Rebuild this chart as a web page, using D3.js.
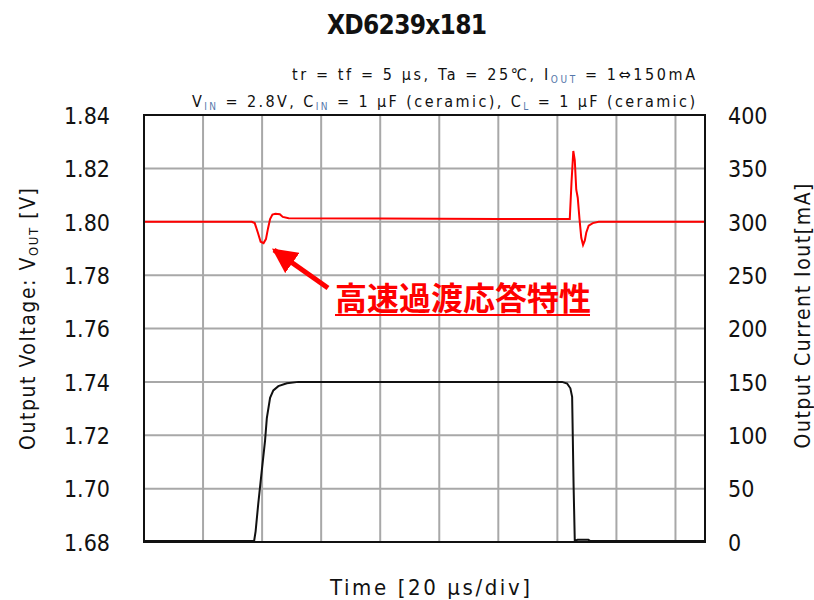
<!DOCTYPE html>
<html>
<head>
<meta charset="utf-8">
<script src="https://cdn.jsdelivr.net/npm/d3@7"></script>
<style>
  body { margin: 0; background: #fff; }
  svg text { font-family: "DejaVu Sans Condensed", "DejaVu Sans", sans-serif; font-stretch: condensed; fill: #111; }
  .cjk { font-family: "Noto Sans CJK JP", sans-serif; font-stretch: normal; }
</style>
</head>
<body>
<div id="chart"></div>
<script>
// time axis in microseconds (20 us/div)
const xTicks = [20, 40, 60, 80, 100, 120, 140, 160, 180];
const voltTicks = [1.68, 1.70, 1.72, 1.74, 1.76, 1.78, 1.80, 1.82, 1.84];
const currTicks = [0, 50, 100, 150, 200, 250, 300, 350, 400];

// output voltage trace (V)
const timeV = [0, 36.5, 37.5, 38.6, 39.5, 40.5, 41.3, 42.0, 42.7, 43.5, 44.5, 46.0, 47.0, 49.0, 80, 120,
  144.2, 144.8, 145.4, 145.9, 146.4, 146.9, 147.5, 148.1, 148.7, 149.3, 149.8, 150.6, 152, 154, 190];
const vout = [1.800, 1.800, 1.7995, 1.7958, 1.7925, 1.7920, 1.7935, 1.7975, 1.8010, 1.8027, 1.8030, 1.8028, 1.8018, 1.8013, 1.8012, 1.8010,
  1.8010, 1.8150, 1.8265, 1.8230, 1.8120, 1.8090, 1.8010, 1.7940, 1.7913, 1.7930, 1.7960, 1.7985, 1.7995, 1.8000, 1.8000];

// output current trace (mA)
const timeI = [0, 37.3, 37.8, 38.7, 39.9, 41.0, 41.6, 42.7, 43.8, 45.5, 48.4, 52.3, 141.6, 143.3, 144.4, 145.0, 145.5, 145.9, 146.8, 150.5, 151, 190];
const iout = [1, 1, 10, 36, 67, 95, 116, 135, 142, 146, 148.7, 150, 150, 148.5, 144, 136, 52, 1, 2, 2, 1, 1];

const width = 814;
const height = 600;
const plotLeft = 144, plotRight = 705, plotTop = 115, plotBottom = 542;

const svg = d3.select('#chart')
  .append('svg')
  .attr('width', width)
  .attr('height', height);

const x = d3.scaleLinear().domain([0, 190]).range([plotLeft, plotRight]);
const yV = d3.scaleLinear().domain([1.68, 1.84]).range([plotBottom, plotTop]);
const yI = d3.scaleLinear().domain([0, 400]).range([plotBottom, plotTop]);

// grid
svg.selectAll('.vgrid')
  .data(xTicks)
  .enter()
  .append('line')
  .attr('x1', d => x(d)).attr('x2', d => x(d))
  .attr('y1', plotTop).attr('y2', plotBottom)
  .attr('stroke', '#a8a8a8').attr('stroke-width', 2);

svg.selectAll('.hgrid')
  .data(voltTicks.slice(1, -1))
  .enter()
  .append('line')
  .attr('x1', plotLeft).attr('x2', plotRight)
  .attr('y1', d => yV(d)).attr('y2', d => yV(d))
  .attr('stroke', '#a8a8a8').attr('stroke-width', 2);

// axis labels
const leftAxis = d3.axisLeft(yV).tickValues(voltTicks).tickSize(0).tickPadding(34).tickFormat(d3.format('.2f'));
svg.append('g')
  .attr('transform', 'translate(' + plotLeft + ',0)')
  .call(leftAxis)
  .call(g => g.select('.domain').remove())
  .selectAll('text')
  .attr('font-size', 23)
  .attr('font-family', null)
  .attr('dy', '0.36em');

const rightAxis = d3.axisRight(yI).tickValues(currTicks).tickSize(0).tickPadding(23);
svg.append('g')
  .attr('transform', 'translate(' + plotRight + ',0)')
  .call(rightAxis)
  .call(g => g.select('.domain').remove())
  .selectAll('text')
  .attr('font-size', 23)
  .attr('font-family', null)
  .attr('dy', '0.36em');

// traces
const lineV = d3.line().x((d, i) => x(timeV[i])).y(d => yV(d));
const lineI = d3.line().x((d, i) => x(timeI[i])).y(d => yI(d));

svg.append('path')
  .datum(iout)
  .attr('d', lineI)
  .attr('fill', 'none')
  .attr('stroke', '#111')
  .attr('stroke-width', 2);

svg.append('path')
  .datum(vout)
  .attr('d', lineV)
  .attr('fill', 'none')
  .attr('stroke', '#ff0000')
  .attr('stroke-width', 2);

// frame
svg.append('rect')
  .attr('x', plotLeft).attr('y', plotTop)
  .attr('width', plotRight - plotLeft).attr('height', plotBottom - plotTop)
  .attr('fill', 'none')
  .attr('stroke', '#111')
  .attr('stroke-width', 2);

// titles
svg.append('text')
  .attr('x', 407).attr('y', 34)
  .attr('text-anchor', 'middle')
  .attr('font-size', 26)
  .attr('font-weight', 'bold')
  .attr('textLength', 160)
  .text('XD6239x181');

const sub1 = svg.append('text')
  .attr('x', 695).attr('y', 80)
  .attr('text-anchor', 'end')
  .attr('font-size', 16)
  .attr('textLength', 403)
  .attr('lengthAdjust', 'spacing');
sub1.append('tspan').text('tr = tf = 5 \u03bcs, Ta = 25\u2103, I');
sub1.append('tspan').attr('font-size', 10).attr('dy', 3).attr('fill', '#5577aa').text('OUT');
sub1.append('tspan').attr('dy', -3).text(' = 1\u21d4150mA');

const sub2 = svg.append('text')
  .attr('x', 695).attr('y', 107)
  .attr('text-anchor', 'end')
  .attr('font-size', 16)
  .attr('textLength', 503)
  .attr('lengthAdjust', 'spacing');
sub2.append('tspan').text('V');
sub2.append('tspan').attr('font-size', 10).attr('dy', 3).attr('fill', '#5577aa').text('IN');
sub2.append('tspan').attr('dy', -3).text(' = 2.8V, C');
sub2.append('tspan').attr('font-size', 10).attr('dy', 3).attr('fill', '#5577aa').text('IN');
sub2.append('tspan').attr('dy', -3).text(' = 1 \u03bcF (ceramic), C');
sub2.append('tspan').attr('font-size', 10).attr('dy', 3).attr('fill', '#5577aa').text('L');
sub2.append('tspan').attr('dy', -3).text(' = 1 \u03bcF (ceramic)');

// axis titles
const yl = svg.append('text')
  .attr('transform', 'translate(35,319) rotate(-90)')
  .attr('text-anchor', 'middle')
  .attr('font-size', 21)
  .attr('textLength', 262)
  .attr('lengthAdjust', 'spacing');
yl.append('tspan').text('Output Voltage: V');
yl.append('tspan').attr('font-size', 13).attr('dy', 3).text('OUT');
yl.append('tspan').attr('dy', -3).text(' [V]');

svg.append('text')
  .attr('transform', 'translate(810,316) rotate(-90)')
  .attr('text-anchor', 'middle')
  .attr('font-size', 21)
  .attr('textLength', 265)
  .attr('lengthAdjust', 'spacing')
  .text('Output Current Iout[mA]');

svg.append('text')
  .attr('x', 430).attr('y', 595)
  .attr('text-anchor', 'middle')
  .attr('font-size', 22)
  .attr('textLength', 200)
  .attr('lengthAdjust', 'spacing')
  .text('Time [20 \u03bcs/div]');

// annotation
const defs = svg.append('defs');
defs.append('marker')
  .attr('id', 'head')
  .attr('viewBox', '0 0 10 10')
  .attr('refX', 9).attr('refY', 5)
  .attr('markerWidth', 5).attr('markerHeight', 5)
  .attr('markerUnits', 'strokeWidth')
  .attr('orient', 'auto')
  .append('path')
  .attr('d', 'M0,0 L10,5 L0,10 Z')
  .attr('fill', '#ff0000');

svg.append('line')
  .attr('x1', 328).attr('y1', 288)
  .attr('x2', 274).attr('y2', 250)
  .attr('stroke', '#ff0000')
  .attr('stroke-width', 5)
  .attr('marker-end', 'url(#head)');

svg.append('text')
  .attr('class', 'cjk')
  .attr('x', 335).attr('y', 310)
  .attr('font-size', 32)
  .attr('font-weight', 'bold')
  .style('fill', '#ff0000')
  .text('高速過渡応答特性');

svg.append('line')
  .attr('x1', 335).attr('x2', 590)
  .attr('y1', 315).attr('y2', 315)
  .attr('stroke', '#ff0000')
  .attr('stroke-width', 2);
</script>
</body>
</html>
